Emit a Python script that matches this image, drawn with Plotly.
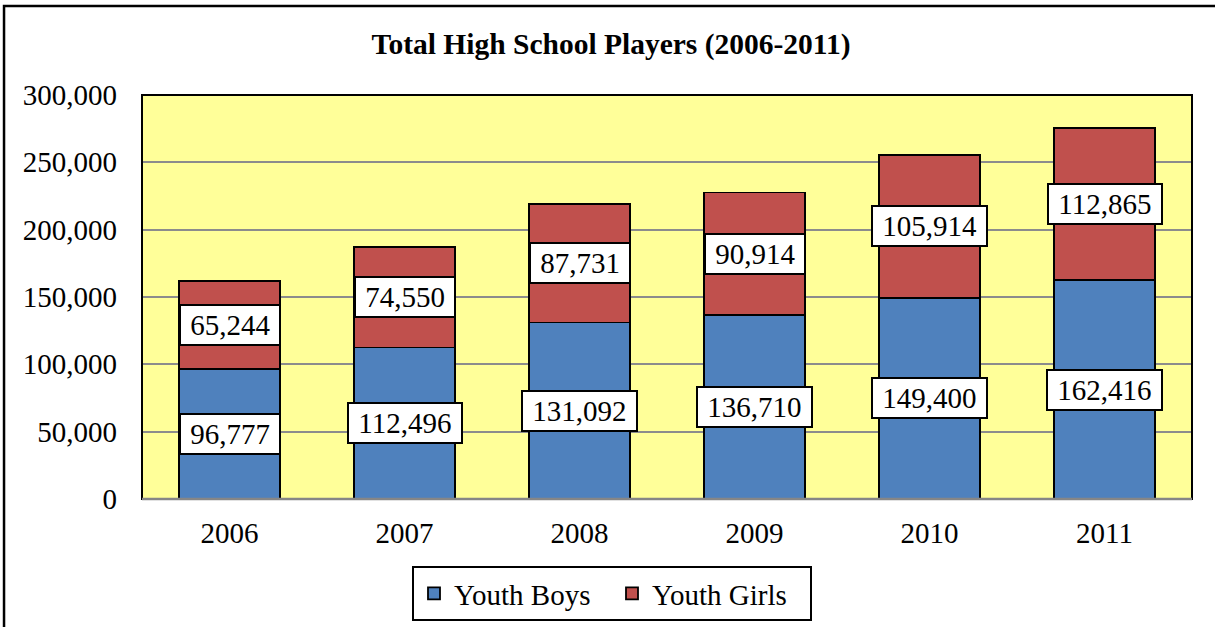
import plotly.graph_objects as go

years = ["2006", "2007", "2008", "2009", "2010", "2011"]
boys = [96777, 112496, 131092, 136710, 149400, 162416]
girls = [65244, 74550, 87731, 90914, 105914, 112865]

FONT = "Liberation Serif"
BLUE = "#4F81BD"
RED = "#C0504D"
FS = 29

fig = go.Figure()
fig.add_trace(go.Bar(x=years, y=boys, name="Youth Boys",
                     marker=dict(color=BLUE, line=dict(color="black", width=1.8))))
fig.add_trace(go.Bar(x=years, y=girls, name="Youth Girls",
                     marker=dict(color=RED, line=dict(color="black", width=1.8))))

annotations = []
for i, (b, g) in enumerate(zip(boys, girls)):
    for val, mid in ((b, b / 2), (g, b + g / 2)):
        annotations.append(dict(
            x=i, y=mid, xref="x", yref="y", showarrow=False,
            text="\u00a0" + f"{val:,}" + "\u00a0",
            font=dict(family=FONT, size=FS, color="black"),
            bgcolor="white", bordercolor="black", borderwidth=2, borderpad=2,
            height=34, valign="middle",
        ))

shapes = [
    # outer chart border (extends beyond right/bottom edge like reference)
    dict(type="rect", xref="paper", yref="paper", x0=-0.1314, x1=1.2, y0=-0.6, y1=1.220,
         line=dict(color="black", width=2.5), fillcolor="rgba(0,0,0,0)", layer="below"),
    # plot area border
    dict(type="rect", xref="paper", yref="paper", x0=0, x1=1, y0=0, y1=1,
         line=dict(color="black", width=2), fillcolor="rgba(0,0,0,0)", layer="above"),
    dict(type="line", xref="paper", yref="paper", x0=0, x1=1, y0=0, y1=0,
         line=dict(color="#868686", width=2.5), layer="above"),
]

W, H = 1215, 627
fig.update_layout(
    width=W, height=H,
    margin=dict(l=142, r=23, t=95, b=128, autoexpand=False),
    paper_bgcolor="white", plot_bgcolor="#FFFF99",
    barmode="stack", bargap=0.42,
    font=dict(family=FONT, size=FS, color="black"),
    title=dict(text="<b>Total High School Players (2006-2011)</b>",
               x=611 / W, xanchor="center", y=1 - 44 / H, yanchor="middle",
               font=dict(family=FONT, size=29.5, color="black")),
    xaxis=dict(type="category", range=[-0.5, 5.5], showgrid=False, ticks="",
               ticklabelstandoff=14, tickfont=dict(family=FONT, size=FS)),
    yaxis=dict(range=[0, 300000], dtick=50000, tickformat=",", showgrid=True,
               gridcolor="#8C8C8C", gridwidth=1.5, zeroline=False, ticks="",
               ticklabelstandoff=24, tickfont=dict(family=FONT, size=FS)),
    legend=dict(orientation="h", x=(612 - 142) / 1050, xanchor="center",
                yref="container", y=1 - 566 / H, yanchor="top",
                bordercolor="black", borderwidth=2, bgcolor="white",
                font=dict(family=FONT, size=FS), itemwidth=30, entrywidth=153,
                traceorder="normal"),
    annotations=annotations,
    shapes=shapes,
)

fig.write_html("out.html", config={"displayModeBar": False},
               post_script="document.body.style.margin='0';document.body.style.overflow='hidden';")
